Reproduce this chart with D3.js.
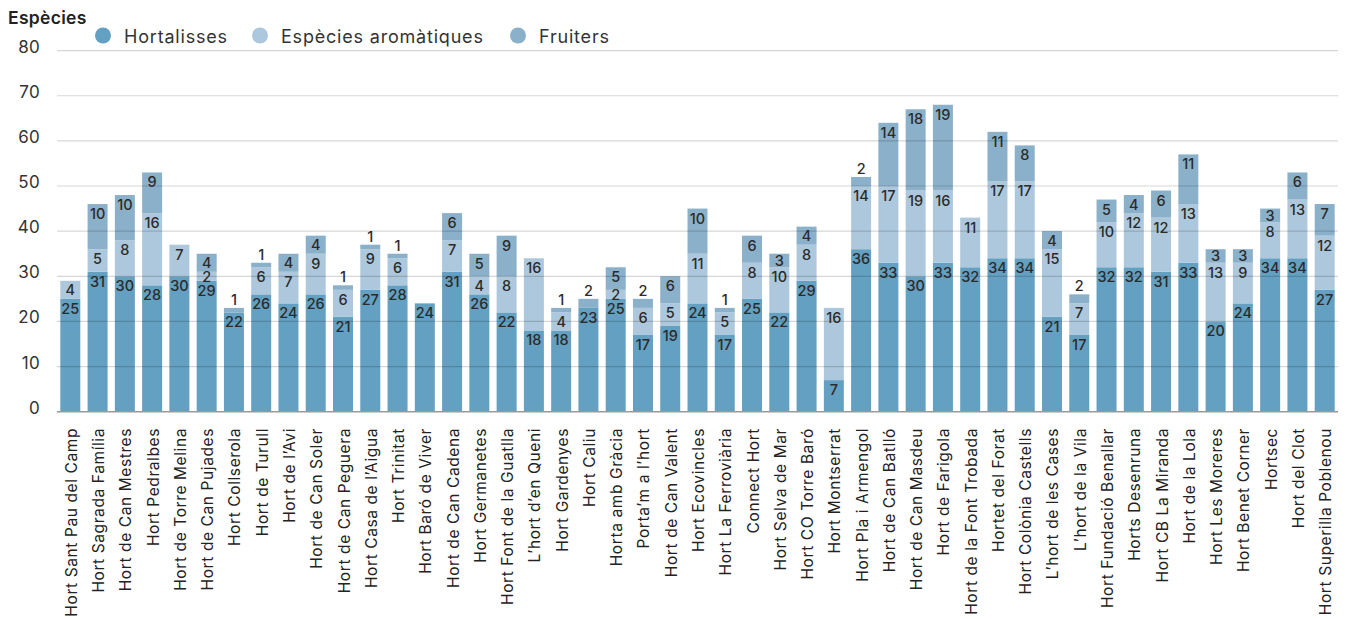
<!DOCTYPE html>
<html><head><meta charset="utf-8">
<script src="https://cdn.jsdelivr.net/npm/d3@7"></script>
<style>
body{margin:0;background:#fff;}
svg{display:block;font-family:Inter,"Noto Sans",sans-serif;}
</style></head>
<body><svg id="c" width="1347" height="619"></svg>
<script>
const categories = ["Hort Sant Pau del Camp","Hort Sagrada Família","Hort de Can Mestres","Hort Pedralbes","Hort de Torre Melina","Hort de Can Pujades","Hort Collserola","Hort de Turull","Hort de l’Avi","Hort de Can Soler","Hort de Can Peguera","Hort Casa de l’Aigua","Hort Trinitat","Hort Baró de Viver","Hort de Can Cadena","Hort Germanetes","Hort Font de la Guatlla","L’hort d’en Queni","Hort Gardenyes","Hort Caliu","Horta amb Gràcia","Porta’m a l’hort","Hort de Can Valent","Hort Ecovincles","Hort La Ferroviària","Connect Hort","Hort Selva de Mar","Hort CO Torre Baró","Hort Montserrat","Hort Pla i Armengol","Hort de Can Batlló","Hort de Can Masdeu","Hort de Farigola","Hort de la Font Trobada","Hortet del Forat","Hort Colònia Castells","L’hort de les Cases","L’hort de la Vila","Hort Fundació Benallar","Horts Desenruna","Hort CB La Miranda","Hort de la Lola","Hort Les Moreres","Hort Benet Corner","Hortsec","Hort del Clot","Hort Superilla Poblenou"];
const hortalisses = [25,31,30,28,30,29,22,26,24,26,21,27,28,24,31,26,22,18,18,23,25,17,19,24,17,25,22,29,7,36,33,30,33,32,34,34,21,17,32,32,31,33,20,24,34,34,27];
const aromatiques = [4,5,8,16,7,2,0,6,7,9,6,9,6,0,7,4,8,16,4,0,2,6,5,11,5,8,10,8,16,14,17,19,16,11,17,17,15,7,10,12,12,13,13,9,8,13,12];
const fruiters    = [0,10,10,9,0,4,1,1,4,4,1,1,1,0,6,5,9,0,1,2,5,2,6,10,1,6,3,4,0,2,14,18,19,0,11,8,4,2,5,4,6,11,3,3,3,6,7];
const seriesNames = ["Hortalisses","Espècies aromàtiques","Fruiters"];
const seriesColors = ["#63a0c1","#adc8dc","#8ab0ca"];
const yTicks = [0,10,20,30,40,50,60,70,80];
const yTitle = "Espècies";

const svg = d3.select("#c");
const x = d3.scaleBand().domain(categories).range([56.5,1338.5]).paddingInner(0.267).paddingOuter(0.14);
const y = d3.scaleLinear().domain([0,80]).range([411.7,50.6]);

const rows = categories.map((c,i)=>({cat:c, Hortalisses:hortalisses[i], "Espècies aromàtiques":aromatiques[i], Fruiters:fruiters[i]}));
const stack = d3.stack().keys(seriesNames)(rows);

// bars
stack.forEach((layer,li)=>{
  svg.append("g").selectAll("rect").data(layer).join("rect")
    .attr("x",d=>x(d.data.cat)).attr("width",x.bandwidth())
    .attr("y",d=>y(d[1])).attr("height",d=>y(d[0])-y(d[1]))
    .attr("fill",seriesColors[li]);
});

// grid over bars
const grid = svg.append("g");
yTicks.forEach(t=>{
  grid.append("line").attr("x1",57).attr("x2",1338).attr("y1",y(t)).attr("y2",y(t))
    .attr("stroke", t===0 ? "#9a9a9a" : "rgba(0,0,0,0.16)").attr("stroke-width", t===0?1.5:1.2);
  svg.append("text").attr("x",40).attr("y",y(t)-4).attr("text-anchor","end")
    .attr("dominant-baseline","central").attr("font-size",17).attr("letter-spacing",0.3).attr("fill","#333").text(t);
});

// value labels
stack.forEach((layer,li)=>{
  layer.forEach((d,i)=>{
    const v = d[1]-d[0];
    if(v<=0) return;
    const isTop = seriesNames.slice(li+1).every(k=>rows[i][k]===0);
    let cy;
    if(isTop && v<=2) cy = y(d[1]) - 8.5;
    else cy = Math.min(y(d[1])+9.5, (y(d[0])+y(d[1]))/2);
    svg.append("text").attr("x",x(d.data.cat)+x.bandwidth()/2).attr("y",cy)
      .attr("text-anchor","middle").attr("dominant-baseline","central")
      .attr("font-size",14.5).attr("font-weight",500).attr("fill","#2b2b2b").text(v);
  });
});

// x labels
svg.append("g").selectAll("text").data(categories).join("text")
  .attr("transform",d=>`translate(${x(d)+x.bandwidth()/2+1},428) rotate(-90)`)
  .attr("text-anchor","end").attr("dominant-baseline","central")
  .attr("font-size",15.5).attr("letter-spacing",0.6).attr("fill","#222").text(d=>d);

// title
svg.append("text").attr("x",8).attr("y",17).attr("dominant-baseline","central")
  .attr("font-size",17.5).attr("letter-spacing",0.3).attr("font-weight",600).attr("fill","#222").text(yTitle);

// legend
const legX = [103,260,518];
seriesNames.forEach((s,i)=>{
  svg.append("circle").attr("cx",legX[i]).attr("cy",35.5).attr("r",8).attr("fill",seriesColors[i]);
  svg.append("text").attr("x",legX[i]+21).attr("y",36).attr("dominant-baseline","central")
    .attr("font-size",18).attr("letter-spacing",0.8).attr("fill","#333").text(s);
});
</script></body></html>
